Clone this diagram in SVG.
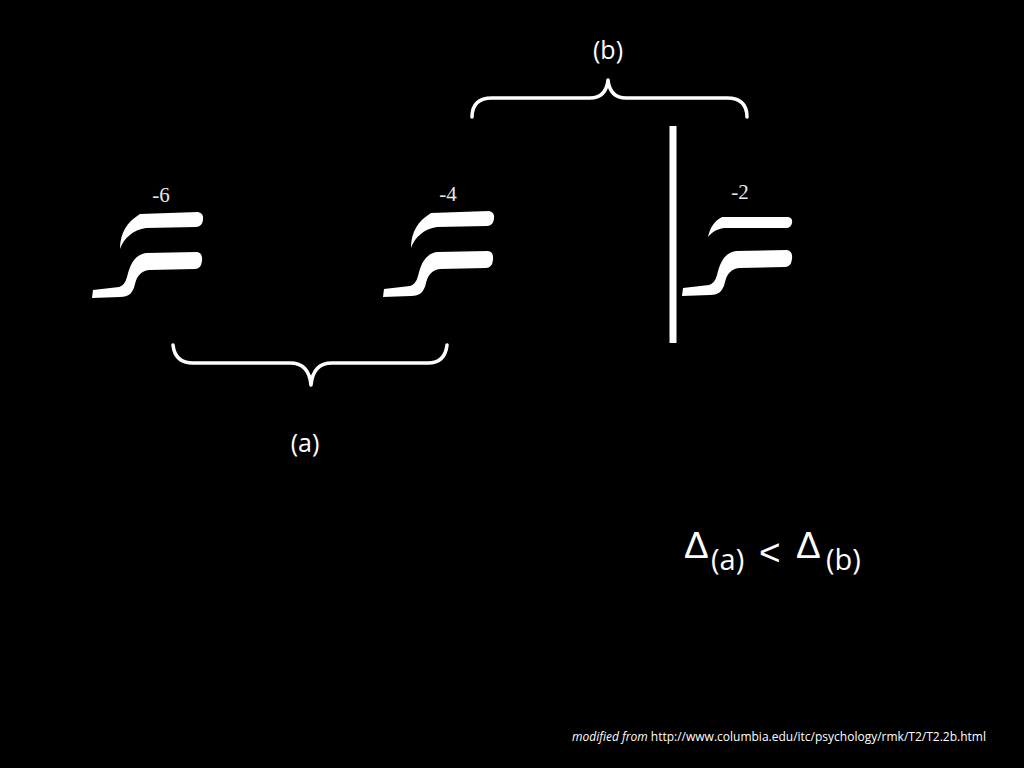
<svg xmlns="http://www.w3.org/2000/svg" width="1024" height="768" viewBox="0 0 1024 768">
<style>
.glyph{fill:#ffffff;}
.num{font-family:"Liberation Serif",serif;font-size:21px;fill:#e8e8e8;text-anchor:middle;}
.brace{fill:none;stroke:#ffffff;stroke-width:3.5;stroke-linecap:round;stroke-linejoin:round;}
.lbl{font-family:"Open Sans","Noto Sans",sans-serif;font-size:25px;fill:#ffffff;text-anchor:middle;}
.delta{font-family:"Liberation Sans","DejaVu Sans",sans-serif;fill:#ffffff;font-size:37px;}
.sub{font-family:"Open Sans","Noto Sans",sans-serif;fill:#ffffff;font-size:29px;}
.foot{font-family:"Open Sans","Noto Sans",sans-serif;font-size:12px;fill:#ffffff;}
</style>
<defs>
<path id="topShape" d="M120 249 C120 233 127 222 140 214 L198 212 Q204 213 203 220 Q202 227 196 227 L146 228 C133 230 124 238 120 249 Z"/>
<path id="botShape" d="M93 290 L119 287 Q125 285 127 277 C130 265 134 255 146 253 L197 252 Q203 253 202 261 Q201 269 195 269 L149 270 C141 271 137 276 135 284 C133 293 129 297 120 297 L92 298 Z"/>
</defs>
<rect width="1024" height="768" fill="#000000"/>
<g id="node-m6">
<use href="#topShape" class="glyph"/>
<use href="#botShape" class="glyph"/>
<text class="num" x="161" y="202">-6</text>
</g>
<g id="node-m4">
<g transform="translate(291,-1)">
<use href="#topShape" class="glyph"/>
<use href="#botShape" class="glyph"/>
</g>
<text class="num" x="448" y="201">-4</text>
</g>
<g id="node-m2">
<path class="glyph" d="M708 237 C710 228 714 221 722 217 L788 217 Q793 218 792 223 Q791 228 786 228 L724 228 C717 229 712 232 708 237 Z"/>
<g transform="translate(590,-2)">
<use href="#botShape" class="glyph"/>
</g>
<text class="num" x="740" y="199">-2</text>
</g>
<g id="divider">
<rect x="669.5" y="126" width="7" height="217" fill="#ffffff"/>
</g>
<g id="connectors">
<path class="brace" d="M472 117 Q472 98 492 98 L590 98 Q606 98 608 80 Q610 98 626 98 L727 98 Q747 98 747 117"/>
<path class="brace" d="M173 345 Q175 363 193 363 L290 363 Q309 363 311 385 Q313 363 332 363 L428 363 Q445 363 447 345"/>
</g>
<text class="lbl" x="608" y="59">(b)</text>
<text class="lbl" x="305" y="452">(a)</text>
<g id="formula">
<text class="delta" x="684" y="558">Δ</text>
<text class="sub" x="711" y="570">(a)</text>
<text class="delta" x="759" y="565" font-size="60">&lt;</text>
<text class="delta" x="796" y="558">Δ</text>
<text class="sub" x="826" y="570">(b)</text>
</g>
<text class="foot" x="572" y="741"><tspan font-style="italic">modified from</tspan> http://www.columbia.edu/itc/psychology/rmk/T2/T2.2b.html</text>
</svg>
